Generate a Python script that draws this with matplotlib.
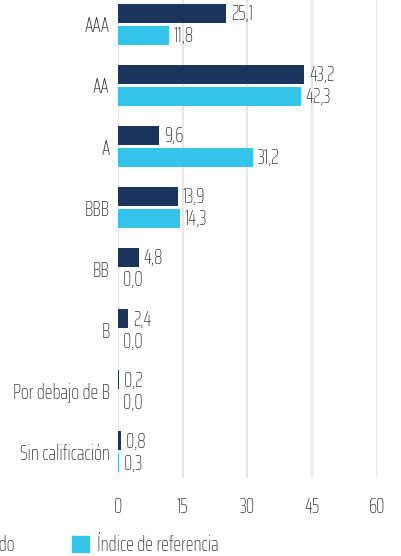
import matplotlib
matplotlib.use("Agg")
import matplotlib.pyplot as plt
from matplotlib.patches import Patch
import numpy as np

# Data
categories = ["AAA", "AA", "A", "BBB", "BB", "B", "Por debajo de B", "Sin calificación"]
fondo = [25.1, 43.2, 9.6, 13.9, 4.8, 2.4, 0.2, 0.8]
indice = [11.8, 42.3, 31.2, 14.3, 0.04, 0.0, 0.0, 0.3]
series_names = ["Fondo", "Índice de referencia"]
xticks = [0, 15, 30, 45, 60]

dark = "#1b355f"
cyan = "#35c4e9"
text_col = "#3a3a3a"
fs = 15

plt.rcParams["font.family"] = ["Saira ExtraCondensed", "Fira Sans Extra Condensed", "DejaVu Sans"]
plt.rcParams["font.weight"] = "light"

fig = plt.figure(figsize=(4.02, 5.56), dpi=100)
ax = fig.add_axes([118 / 402, 78 / 556, 259 / 402, 478 / 556])

y = np.arange(len(categories))
h = 0.31
off = 0.18
b1 = ax.barh(y - off, fondo, height=h, color=dark, zorder=3)
b2 = ax.barh(y + off, indice, height=h, color=cyan, zorder=3)

# value labels with decimal comma
for bars, vals in ((b1, fondo), (b2, indice)):
    for bar, v in zip(bars, vals):
        ax.text(bar.get_width() + 1.1, bar.get_y() + bar.get_height() / 2,
                f"{v:.1f}".replace(".", ","), va="center", ha="left",
                fontsize=fs, color=text_col)

ax.set_xlim(0, 60)
ax.set_ylim(len(categories) - 1 + 0.43, -0.40)
ax.set_xticks(xticks)
ax.set_xticklabels([str(t) for t in xticks], fontsize=fs, color=text_col)
ax.set_yticks(y)
ax.set_yticklabels(categories, fontsize=fs, color=text_col)
ax.tick_params(axis="both", length=0)
ax.tick_params(axis="y", pad=6)
ax.tick_params(axis="x", pad=14)
ax.grid(axis="x", color="#e8e8e8", linewidth=1.6, zorder=0)
for s in ax.spines.values():
    s.set_visible(False)

handles = [Patch(color=dark), Patch(color=cyan)]
fig.legend(handles, series_names, loc="center left", bbox_to_anchor=(-0.121, 11 / 556),
           ncol=2, frameon=False, fontsize=fs, handlelength=0.82, handleheight=0.82,
           handletextpad=0.37, columnspacing=2.74, borderpad=0, borderaxespad=0,
           labelcolor=text_col)

fig.savefig("out.png", dpi=100)
